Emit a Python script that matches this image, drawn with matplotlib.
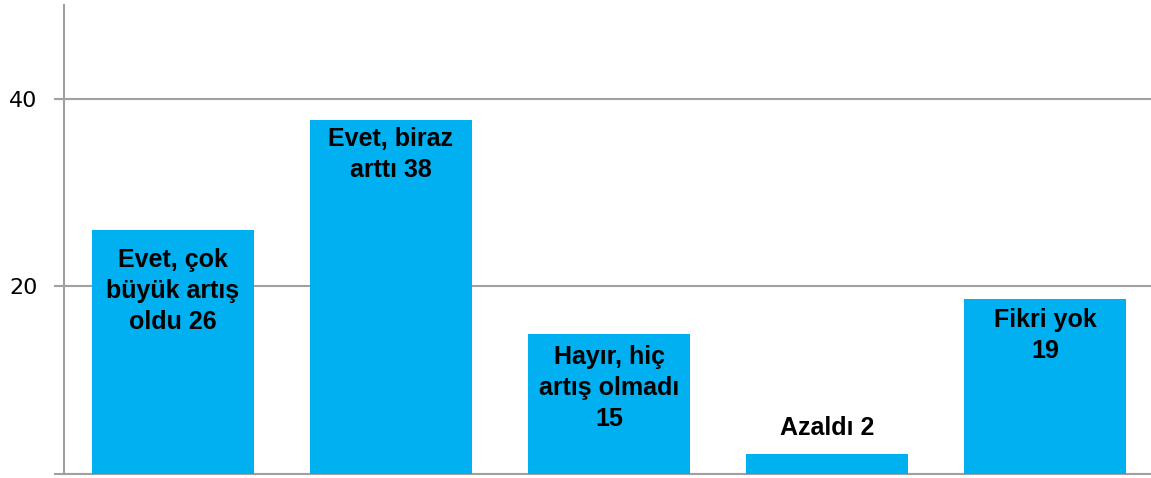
import matplotlib.pyplot as plt

categories = ['Evet, çok\nbüyük artış\noldu 26', 'Evet, biraz\narttı 38', 'Hayır, hiç\nartış olmadı\n15',
              'Azaldı 2', 'Fikri yok\n19']
values = [26.0, 37.7, 14.9, 2.1, 18.7]
yticks = [0, 20, 40]
ytick_labels = ['', '20', '40']

# label offset from bar top, in points (negative = inside the bar)
label_offsets = [-13, -5, -8, 10, -7]

bar_color = '#00B0F0'
grid_color = '#A0A0A0'

fig = plt.figure(figsize=(11.51, 4.78), dpi=100)
ax = fig.add_axes([64 / 1151, 4 / 478, 1090 / 1151, 469 / 478])

x = range(len(values))
ax.bar(x, values, width=0.743, color=bar_color, zorder=3)

ax.set_xlim(-0.5, 4.5)
ax.set_ylim(0, 50)
ax.set_yticks(yticks)
ax.set_yticklabels(ytick_labels, fontsize=16, family='DejaVu Sans')
ax.set_xticks([])
ax.tick_params(axis='y', length=7, width=1.5, color=grid_color, pad=12)
ax.yaxis.grid(True, color=grid_color, linewidth=1.5, zorder=0)

for side in ['top', 'right']:
    ax.spines[side].set_visible(False)
for side in ['left', 'bottom']:
    ax.spines[side].set_color(grid_color)
    ax.spines[side].set_linewidth(1.5)

for i, (label, v) in enumerate(zip(categories, values)):
    off = label_offsets[i]
    ax.annotate(label, (i, v), xytext=(0, off), textcoords='offset points',
                ha='center', va='bottom' if off > 0 else 'top', fontsize=18, fontweight='bold',
                family=['Liberation Sans', 'DejaVu Sans'], linespacing=1.36, zorder=4)

plt.savefig('out.png', dpi=100)
